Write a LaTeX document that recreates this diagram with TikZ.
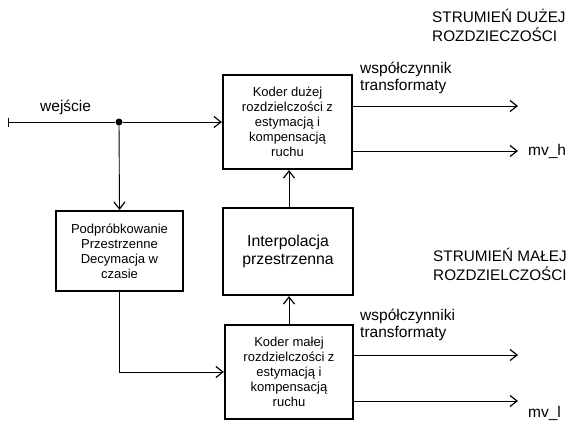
\documentclass[tikz,border=0pt]{standalone}
\usepackage{fontspec}
\setmainfont{Liberation Sans}
\usetikzlibrary{arrows.meta}
\begin{document}
\begin{tikzpicture}[x=1pt,y=-1pt,
  blk/.style={draw, line width=2.2pt, rectangle, inner sep=0pt, align=center,
    font=\fontsize{13}{15}\selectfont},
  lbl/.style={inner sep=0pt, align=left, font=\fontsize{15.5}{17.5}\selectfont},
  arr/.style={line width=0.9pt, -{Straight Barb[length=7pt,width=11pt,line width=1.2pt]}},
  conn/.style={line width=0.9pt}]
\useasboundingbox (0,0) rectangle (572,423);
% blocks
\node[blk, minimum width=129pt, minimum height=94pt] (top) at (287.5,122)
  {Koder dużej\\rozdzielczości z\\estymacją i\\kompensacją\\ruchu};
\node[blk, minimum width=130pt, minimum height=87pt,
  font=\fontsize{15.8}{18.5}\selectfont] (interp) at (288,251.5)
  {Interpolacja\\przestrzenna};
\node[blk, minimum width=128pt, minimum height=94pt] (bot) at (289,372)
  {Koder małej\\rozdzielczości z\\estymacją i\\kompensacją\\ruchu};
\node[blk, minimum width=127pt, minimum height=80pt] (sub) at (119.5,251)
  {Podpróbkowanie\\Przestrzenne\\Decymacja w\\czasie};
% input
\coordinate (in) at (8,122);
\node[circle, fill, inner sep=0pt, minimum size=7pt] (dot) at (119,122) {};
\draw[conn, {Bar[width=9pt,line width=0.9pt]}-] (in) -- (dot);
\draw[arr] (dot) -- (top.west);
\draw[arr] (dot) -- (sub.north);
\draw[arr] (sub.south) |- (bot.west);
\draw[arr] (bot.north -| 289,0) -- (interp.south -| 289,0);
\draw[arr] (interp.north -| 289,0) -- (top.south -| 289,0);
% outputs
\coordinate (o1) at (518,106);
\coordinate (o2) at (518,151);
\coordinate (o3) at (518,355);
\coordinate (o4) at (518,401);
\draw[arr] (top.east |- o1) -- (o1);
\draw[arr] (top.east |- o2) -- (o2);
\draw[arr] (bot.east |- o3) -- (o3);
\draw[arr] (bot.east |- o4) -- (o4);
% labels
\node[lbl, anchor=west] (win) at (40,107) {wejście};
\node[lbl, anchor=west] (wsp1) at (360,78) {współczynnik\\transformaty};
\node[lbl, anchor=west] (wsp2) at (360,325) {współczynniki\\transformaty};
\node[lbl, anchor=west] (mvh) at (528,151) {mv\_h};
\node[lbl, anchor=west] (mvl) at (528,413) {mv\_l};
\node[lbl, anchor=west, font=\fontsize{15.3}{19}\selectfont] (sh) at (432,25.5)
  {STRUMIEŃ DUŻEJ\\ROZDZIECZOŚCI};
\node[lbl, anchor=west, font=\fontsize{15.3}{19}\selectfont] (sl) at (433,264)
  {STRUMIEŃ MAŁEJ\\ROZDZIELCZOŚCI};
\end{tikzpicture}
\end{document}
